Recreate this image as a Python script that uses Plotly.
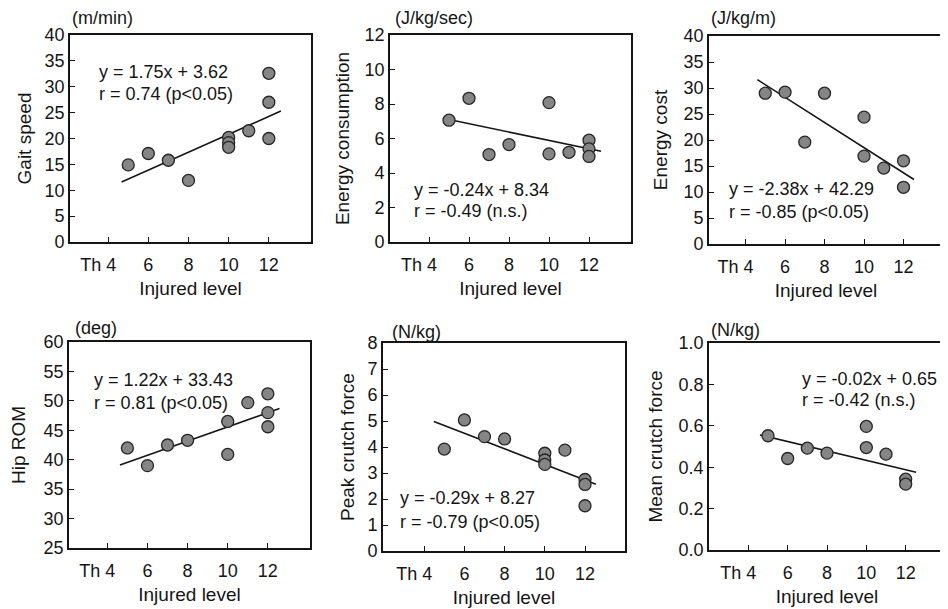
import plotly.graph_objects as go

W, H = 948, 609
# the page places the figure 8 px from the window's top-left corner
OFF_X, OFF_Y = 8, 8

# ---------------- data ----------------
level_ticks = [4, 6, 8, 10, 12]
level_ticktext = ["Th 4\u00a0\u00a0\u00a0\u00a0", "6", "8", "10", "12"]

gait_x = [5, 6, 7, 8, 10, 10, 10, 11, 12, 12, 12]
gait_y = [14.9, 17.1, 15.8, 11.9, 20.2, 19.2, 18.3, 21.5, 32.6, 27.0, 20.0]
gait_line_x = [4.67, 12.6]
gait_line_y = [11.6, 25.3]

econs_x = [5, 6, 7, 8, 10, 10, 11, 12, 12, 12]
econs_y = [7.06, 8.33, 5.07, 5.65, 8.08, 5.11, 5.2, 5.9, 5.4, 4.96]
econs_line_x = [5.0, 12.6]
econs_line_y = [7.1, 5.26]

ecost_x = [5, 6, 7, 8, 10, 10, 11, 12, 12]
ecost_y = [29.0, 29.2, 19.6, 29.0, 24.4, 16.9, 14.6, 16.0, 10.9]
ecost_line_x = [4.6, 12.53]
ecost_line_y = [31.6, 12.4]

hip_x = [5, 6, 7, 8, 10, 10, 11, 12, 12, 12]
hip_y = [42.0, 39.0, 42.5, 43.3, 46.5, 40.9, 49.7, 51.2, 48.0, 45.6]
hip_line_x = [4.63, 12.58]
hip_line_y = [39.1, 48.7]

peak_x = [5, 6, 7, 8, 10, 10, 10, 11, 12, 12, 12]
peak_y = [3.92, 5.04, 4.40, 4.31, 3.76, 3.5, 3.33, 3.88, 2.75, 2.56, 1.74]
peak_line_x = [4.48, 12.54]
peak_line_y = [4.98, 2.57]

mean_x = [5, 6, 7, 8, 10, 10, 11, 12, 12]
mean_y = [0.552, 0.442, 0.492, 0.468, 0.597, 0.495, 0.463, 0.342, 0.318]
mean_line_x = [4.59, 12.53]
mean_line_y = [0.556, 0.376]

titles = ["Gait speed", "Energy consumption", "Energy cost",
          "Hip ROM", "Peak crutch force", "Mean crutch force"]
units = ["(m/min)", "(J/kg/sec)", "(J/kg/m)", "(deg)", "(N/kg)", "(N/kg)"]
eq_text = ["y = 1.75x + 3.62", "y = -0.24x + 8.34", "y = -2.38x + 42.29",
           "y = 1.22x + 33.43", "y = -0.29x + 8.27", "y = -0.02x + 0.65"]
r_text = ["r = 0.74 (p<0.05)", "r = -0.49 (n.s.)", "r = -0.85 (p<0.05)",
          "r = 0.81 (p<0.05)", "r = -0.79 (p<0.05)", "r = -0.42 (n.s.)"]
y_ranges = [[0, 40], [0, 12], [0, 40], [25, 60], [0, 8], [0, 1.0]]
y_dticks = [5, 2, 5, 5, 1, 0.2]
y_formats = ["", "", "", "", "", ".1f"]

xs = [gait_x, econs_x, ecost_x, hip_x, peak_x, mean_x]
ys = [gait_y, econs_y, ecost_y, hip_y, peak_y, mean_y]
lxs = [gait_line_x, econs_line_x, ecost_line_x, hip_line_x, peak_line_x, mean_line_x]
lys = [gait_line_y, econs_line_y, ecost_line_y, hip_line_y, peak_line_y, mean_line_y]

# ---------------- layout geometry (window pixels) ----------------
boxes = [  # left, right, top, bottom
    (70, 311, 35, 242),
    (390, 631, 35, 242),
    (709, 943, 36, 244),
    (69, 310, 342, 548),
    (383, 625, 343, 551),
    (709, 945, 343, 550),
]
x_ranges = [[2.1, 14.1], [2.05, 14.1], [2.15, 14.0], [2.09, 14.1], [1.95, 13.99], [2.0, 14.0]]
eq_pos = [(97, 72, 94), (412, 190, 211), (727, 189, 212),
          (92, 380, 403), (398, 498, 522), (800, 379, 400)]
unit_pos = [(70, 18), (393, 18), (709, 18), (73, 328), (390, 332), (709, 330)]
ytitle_standoff = [8, 10, 11, 16, 8, 11]

FONT = "Liberation Sans, Arial, Helvetica, sans-serif"
INK = "#151515"

fig = go.Figure()
layout = dict(width=W, height=H, margin=dict(l=0, r=0, t=0, b=0, pad=0, autoexpand=False),
              autosize=False,
              paper_bgcolor="white", plot_bgcolor="white", showlegend=False,
              font=dict(family=FONT, color=INK, size=18))
annotations = []

def px(x):
    return (x - OFF_X) / W

def py(y):
    return 1 - (y - OFF_Y) / H

for i in range(6):
    n = "" if i == 0 else str(i + 1)
    xa, ya = "x" + n, "y" + n
    L, R, T, B = boxes[i]
    fig.add_trace(go.Scatter(x=lxs[i], y=lys[i], mode="lines", xaxis=xa, yaxis=ya,
                             line=dict(color=INK, width=1.6), hoverinfo="skip"))
    fig.add_trace(go.Scatter(x=xs[i], y=ys[i], mode="markers", xaxis=xa, yaxis=ya,
                             marker=dict(size=12, color="#858585",
                                         line=dict(color="#262626", width=1.3))))
    layout["xaxis" + n] = dict(
        domain=[px(L), px(R)], range=x_ranges[i], anchor=ya, automargin=False,
        tickmode="array", tickvals=level_ticks, ticktext=level_ticktext,
        ticks="inside", ticklen=5, tickwidth=1.3, tickcolor=INK, ticklabelstandoff=6,
        showline=True, linewidth=1.6, linecolor=INK, mirror=True,
        showgrid=False, zeroline=False, fixedrange=True,
        tickfont=dict(size=18, family=FONT, color=INK),
        title=dict(text="Injured level", font=dict(size=19, family=FONT, color=INK), standoff=7),
    )
    layout["yaxis" + n] = dict(
        domain=[py(B), py(T)], range=y_ranges[i], anchor=xa, automargin=False,
        tick0=y_ranges[i][0], dtick=y_dticks[i], tickformat=y_formats[i],
        ticks="inside", ticklen=5, tickwidth=1.3, tickcolor=INK,
        showline=True, linewidth=1.6, linecolor=INK, mirror=True,
        showgrid=False, zeroline=False, fixedrange=True,
        tickfont=dict(size=18, family=FONT, color=INK),
        title=dict(text=titles[i], font=dict(size=19, family=FONT, color=INK),
                   standoff=ytitle_standoff[i]),
    )
    ex, ey, ry = eq_pos[i]
    annotations.append(dict(text=eq_text[i], x=px(ex), y=py(ey), xref="paper", yref="paper",
                            xanchor="left", yanchor="middle", showarrow=False,
                            font=dict(size=18, family=FONT, color=INK)))
    annotations.append(dict(text=r_text[i], x=px(ex), y=py(ry), xref="paper", yref="paper",
                            xanchor="left", yanchor="middle", showarrow=False,
                            font=dict(size=18, family=FONT, color=INK)))
    ux, uy = unit_pos[i]
    annotations.append(dict(text=units[i], x=px(ux), y=py(uy), xref="paper", yref="paper",
                            xanchor="left", yanchor="middle", showarrow=False,
                            font=dict(size=18, family=FONT, color=INK)))

layout["annotations"] = annotations
fig.update_layout(**layout)
fig.write_html("out.html")
